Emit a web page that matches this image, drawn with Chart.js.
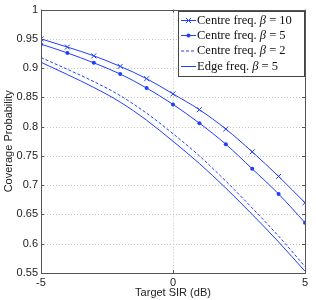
<!DOCTYPE html>
<html><head><meta charset="utf-8">
<script src="https://cdn.jsdelivr.net/npm/chart.js@4"></script>
<style>html,body{margin:0;padding:0;background:#fff;}#wrap{width:316px;height:300px;}</style>
</head><body><div id="wrap"><canvas id="c" width="316" height="300"></canvas></div>
<script>
const sirDb = [-5,-4,-3,-2,-1,0,1,2,3,4,5];
const centre10 = [0.950,0.936,0.921,0.903,0.882,0.856,0.829,0.796,0.757,0.715,0.670];
const centre5  = [0.941,0.926,0.909,0.890,0.866,0.838,0.806,0.770,0.728,0.685,0.636];
const centre2  = [0.918,0.898,0.877,0.853,0.823,0.788,0.750,0.707,0.661,0.613,0.561];
const edge5    = [0.910,0.889,0.867,0.842,0.811,0.775,0.737,0.695,0.650,0.603,0.553];
const seriesLabels = [["Centre freq. ","β"," = 10"],["Centre freq. ","β"," = 5"],["Centre freq. ","β"," = 2"],["Edge freq. ","β"," = 5"]];
const xTicks = [-5,0,5];
const yTicks = [0.55,0.6,0.65,0.7,0.75,0.8,0.85,0.9,0.95,1];

const BLUE = '#1f3dff';
const pts = arr => sirDb.map((x,i)=>({x:x,y:arr[i]}));
const AXC = '#555555';

const gridPlugin = {
  id:'dotgrid',
  beforeDatasetsDraw(chart){
    const ctx = chart.ctx, a = chart.chartArea;
    const xs = chart.scales.x, ys = chart.scales.y;
    ctx.save();
    ctx.strokeStyle = '#c4c4c4'; ctx.lineWidth = 1; ctx.setLineDash([1,2]);
    ctx.beginPath();
    xTicks.forEach(v=>{const px=Math.round(xs.getPixelForValue(v))+0.5; ctx.moveTo(px,a.top); ctx.lineTo(px,a.bottom);});
    yTicks.forEach(v=>{const py=Math.round(ys.getPixelForValue(v))+0.5; ctx.moveTo(a.left,py); ctx.lineTo(a.right,py);});
    ctx.stroke();
    ctx.restore();
  }
};

const framePlugin = {
  id:'frame',
  afterDraw(chart){
    const ctx = chart.ctx, a = chart.chartArea;
    const xs = chart.scales.x, ys = chart.scales.y;
    ctx.save();
    ctx.strokeStyle = AXC; ctx.lineWidth = 1;
    ctx.strokeRect(Math.round(a.left)+0.5, Math.round(a.top)+0.5, Math.round(a.right-a.left), Math.round(a.bottom-a.top));
    ctx.beginPath();
    xTicks.forEach(v=>{const px=Math.round(xs.getPixelForValue(v))+0.5;
      ctx.moveTo(px,a.bottom); ctx.lineTo(px,a.bottom-3); ctx.moveTo(px,a.top); ctx.lineTo(px,a.top+3);});
    yTicks.forEach(v=>{const py=Math.round(ys.getPixelForValue(v))+0.5;
      ctx.moveTo(a.left,py); ctx.lineTo(a.left+3,py); ctx.moveTo(a.right,py); ctx.lineTo(a.right-3,py);});
    ctx.stroke();
    // legend
    const lx=178, ly=11, lw=126, lh=65;
    ctx.fillStyle='#fff'; ctx.fillRect(lx,ly,lw,lh);
    ctx.strokeStyle='#444'; ctx.strokeRect(lx+0.5,ly+0.5,lw,lh);
    const rowY=[20.5,35.5,51,66.5];
    chart.data.datasets.forEach((ds,i)=>{
      const y=rowY[i];
      ctx.strokeStyle=ds.borderColor; ctx.lineWidth=1;
      ctx.setLineDash(ds.borderDash||[]);
      ctx.beginPath(); ctx.moveTo(181,y); ctx.lineTo(196,y); ctx.stroke();
      ctx.setLineDash([]);
      if(ds.pointStyle==='crossRot'){ctx.beginPath();ctx.moveTo(186,y-2.5);ctx.lineTo(191,y+2.5);ctx.moveTo(186,y+2.5);ctx.lineTo(191,y-2.5);ctx.stroke();}
      if(ds.pointStyle==='circle'){ctx.fillStyle=ds.borderColor;ctx.beginPath();ctx.arc(188.5,y,2,0,Math.PI*2);ctx.fill();}
      const parts=seriesLabels[i];
      let x=197; ctx.fillStyle='#111'; ctx.textBaseline='middle';
      ctx.font='12.5px "Liberation Serif"'; ctx.fillText(parts[0],x,y); x+=ctx.measureText(parts[0]).width;
      ctx.font='italic 12.5px "Liberation Serif"'; ctx.fillText(parts[1],x,y); x+=ctx.measureText(parts[1]).width;
      ctx.font='12.5px "Liberation Serif"'; ctx.fillText(parts[2],x,y);
    });
    ctx.restore();
  }
};

new Chart(document.getElementById('c'),{
  type:'line',
  data:{datasets:[
    {label:'Centre freq. β = 10',data:pts(centre10),borderColor:BLUE,backgroundColor:BLUE,borderWidth:1,pointStyle:'crossRot',pointRadius:3.5,pointBorderWidth:1,pointBackgroundColor:BLUE,pointBorderColor:BLUE},
    {label:'Centre freq. β = 5',data:pts(centre5),borderColor:BLUE,backgroundColor:BLUE,borderWidth:1,pointStyle:'circle',pointRadius:2,pointBorderWidth:0,pointBackgroundColor:BLUE},
    {label:'Centre freq. β = 2',data:pts(centre2),borderColor:BLUE,borderWidth:1,borderDash:[3,2],pointRadius:0},
    {label:'Edge freq. β = 5',data:pts(edge5),borderColor:BLUE,borderWidth:1,pointRadius:0}
  ]},
  options:{
    responsive:false, animation:false,
    layout:{padding:{top:9,right:11,left:0,bottom:0}},
    elements:{line:{cubicInterpolationMode:'monotone'}},
    plugins:{legend:{display:false},tooltip:{enabled:false}},
    scales:{
      x:{type:'linear',min:-5,max:5,
        afterBuildTicks(s){s.ticks=xTicks.map(v=>({value:v}));},
        afterFit(s){s.height=27;},
        grid:{display:false,drawTicks:false},
        border:{display:false},
        ticks:{padding:3,color:'#222',font:{family:'"Liberation Sans"',size:11},maxRotation:0,callback:v=>String(v)},
        title:{display:true,text:'Target SIR (dB)',color:'#222',font:{family:'"Liberation Sans"',size:11},padding:{top:0,bottom:0}}
      },
      y:{type:'linear',min:0.55,max:1,
        afterBuildTicks(s){s.ticks=yTicks.map(v=>({value:v}));},
        afterFit(s){s.width=41;},
        grid:{display:false,drawTicks:false},
        border:{display:false},
        ticks:{padding:3,color:'#222',font:{family:'"Liberation Sans"',size:11},callback:v=>String(Number(v.toFixed(2)))},
        title:{display:true,text:'Coverage Probability',color:'#222',font:{family:'"Liberation Sans"',size:11},padding:{top:2,bottom:0}}
      }
    }
  },
  plugins:[gridPlugin, framePlugin]
});
</script></body></html>
